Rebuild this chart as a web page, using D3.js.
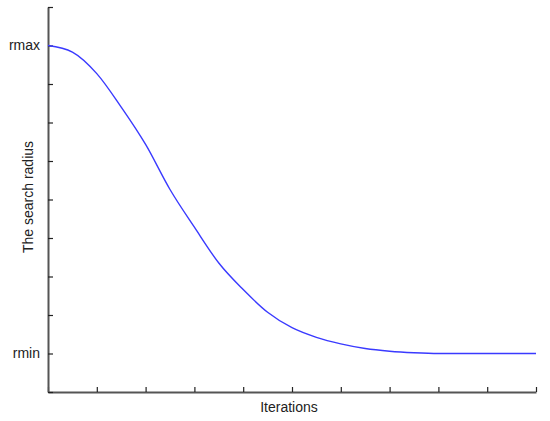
<!DOCTYPE html>
<html lang="en">
  <head>
    <meta charset="utf-8">
    <title>Search radius</title>
    <script type="text/javascript" src="https://cdn.jsdelivr.net/npm/d3@7"></script>
    <style type="text/css">
      body { margin: 0; background: #fff; }
      text { font-family: "Liberation Sans", Arial, sans-serif; fill: #222; }
    </style>
  </head>
  <body>
    <script type="text/javascript">

      //Width and height
      var w = 550;
      var h = 421;

      // iterations (0..10 = axis ticks) and search radius (tick units, rmin = 1, rmax = 9)
      var iterations = [0, 0.5, 1.0, 1.5, 2.0, 2.5, 3.0, 3.5, 4.0, 4.5, 5.0,
                        5.5, 6.0, 6.5, 7.0, 7.5, 8.0, 9.0, 10];
      var radius = [9.0, 8.83, 8.27, 7.40, 6.43, 5.26, 4.28, 3.35, 2.66, 2.07, 1.67,
                    1.42, 1.25, 1.13, 1.06, 1.02, 1.0, 1.0, 1.0];
      var yLabels = [[9, "rmax"], [1, "rmin"]];

      var xScale = d3.scaleLinear().domain([0, 10]).range([48, 536]);
      var yScale = d3.scaleLinear().domain([0, 10]).range([392, 7]);

      var svg = d3.select("body")
            .append("svg")
            .attr("width", w)
            .attr("height", h);

      //Axes (ticks pointing inward)
      var xAxis = d3.axisTop(xScale).ticks(10).tickSize(5).tickFormat("").tickSizeOuter(0);
      var yAxis = d3.axisRight(yScale).ticks(10).tickSize(5).tickFormat("").tickSizeOuter(0);

      var gx = svg.append("g").attr("transform", "translate(0,392)").call(xAxis);
      var gy = svg.append("g").attr("transform", "translate(48,0)").call(yAxis);
      [gx, gy].forEach(function(g) {
        g.select(".domain").attr("stroke", "#555").attr("stroke-width", 2);
        g.selectAll(".tick line").attr("stroke", "#222").attr("stroke-width", 1.2);
      });

      //Curve
      var line = d3.line()
            .x(function(d, i) { return xScale(iterations[i]); })
            .y(function(d) { return yScale(d); })
            .curve(d3.curveMonotoneX);

      svg.append("path")
         .datum(radius)
         .attr("d", line)
         .attr("fill", "none")
         .attr("stroke", "#3a3aff")
         .attr("stroke-width", 1.4);

      //Y labels
      svg.selectAll("text.ylab")
         .data(yLabels)
         .enter()
         .append("text")
         .attr("class", "ylab")
         .attr("x", 40)
         .attr("y", function(d) { return yScale(d[0]); })
         .attr("dy", "0.35em")
         .attr("text-anchor", "end")
         .attr("font-size", 14)
         .text(function(d) { return d[1]; });

      //Axis titles
      svg.append("text")
         .attr("x", 289)
         .attr("y", 412)
         .attr("text-anchor", "middle")
         .attr("font-size", 14)
         .text("Iterations");

      svg.append("text")
         .attr("transform", "translate(33,197) rotate(-90)")
         .attr("text-anchor", "middle")
         .attr("font-size", 14)
         .text("The search radius");

    </script>
  </body>
</html>
